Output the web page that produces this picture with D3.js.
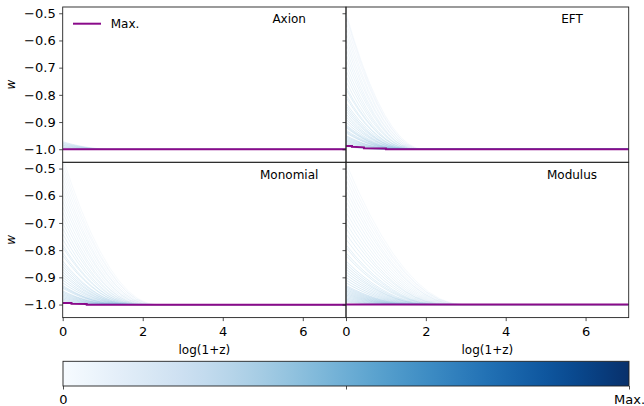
<!DOCTYPE html>
<html>
<head>
<meta charset="utf-8">
<script src="https://cdn.jsdelivr.net/npm/d3@7"></script>
<style>
  html, body { margin: 0; padding: 0; background: #fff; }
  svg { display: block; font-family: "DejaVu Sans", sans-serif; }
</style>
</head>
<body>
<svg id="chart" width="644" height="406"></svg>
<script>
// ---------------- data ----------------
const panelNames = ["Axion", "EFT", "Monomial", "Modulus"];
const yTicks = [-0.5, -0.6, -0.7, -0.8, -0.9, -1.0];
const xTicks = [0, 2, 4, 6];
const colorbarTickLabels = ["0", "", "Max."];

// shared decay shape of a trajectory, sampled at t = 0, 0.1, ... 1 (fraction of its decay length)
const decayT       = [0, 0.1, 0.2, 0.3, 0.4, 0.5, 0.6, 0.7, 0.8, 0.9, 1.0];
const decayProfile = [1, 0.81, 0.64, 0.49, 0.36, 0.25, 0.16, 0.09, 0.04, 0.01, 0];

// trajectories: w at log(1+z)=0 and log(1+z) where w reaches -1
const axionStart = [-0.972, -0.975, -0.978, -0.98, -0.983, -0.985, -0.987, -0.99, -0.992, -0.994, -0.996];
const axionEnd   = [1.25, 1.2, 1.15, 1.1, 1.05, 1.0, 0.9, 0.85, 0.8, 0.7, 0.6];

const eftStart = [-0.50, -0.51, -0.53, -0.55, -0.57, -0.59, -0.61, -0.63, -0.65, -0.67, -0.69, -0.71,
                  -0.73, -0.75, -0.77, -0.78, -0.80, -0.81, -0.83, -0.84, -0.85, -0.86, -0.87, -0.88,
                  -0.89, -0.90, -0.91, -0.915, -0.92, -0.93, -0.935, -0.94, -0.95, -0.955, -0.96, -0.965,
                  -0.97, -0.975, -0.98, -0.985, -0.99];
const eftEnd   = [1.95, 1.9, 1.9, 1.85, 1.85, 1.8, 1.8, 1.75, 1.75, 1.75, 1.7, 1.7,
                  1.7, 1.65, 1.65, 1.65, 1.6, 1.6, 1.6, 1.55, 1.55, 1.55, 1.5, 1.5,
                  1.5, 1.45, 1.45, 1.4, 1.4, 1.4, 1.35, 1.35, 1.3, 1.3, 1.25, 1.2,
                  1.2, 1.1, 1.05, 1.0, 0.9];

const monoStart = [-0.46, -0.48, -0.50, -0.52, -0.54, -0.56, -0.58, -0.60, -0.62, -0.64, -0.66, -0.68,
                   -0.70, -0.72, -0.74, -0.76, -0.78, -0.79, -0.81, -0.82, -0.84, -0.85, -0.86, -0.87,
                   -0.88, -0.89, -0.90, -0.91, -0.92, -0.93, -0.935, -0.94, -0.95, -0.955, -0.96, -0.965,
                   -0.97, -0.975, -0.98, -0.985, -0.99];
const monoEnd   = [2.35, 2.3, 2.3, 2.25, 2.2, 2.2, 2.15, 2.1, 2.1, 2.05, 2.0, 2.0,
                   1.95, 1.95, 1.9, 1.9, 1.85, 1.85, 1.8, 1.8, 1.75, 1.75, 1.7, 1.7,
                   1.65, 1.65, 1.6, 1.6, 1.55, 1.5, 1.5, 1.45, 1.4, 1.4, 1.35, 1.3,
                   1.25, 1.2, 1.1, 1.0, 0.9];

const modStart = [-0.48, -0.50, -0.52, -0.54, -0.56, -0.58, -0.60, -0.62, -0.64, -0.66, -0.68, -0.70,
                  -0.72, -0.74, -0.76, -0.78, -0.79, -0.81, -0.82, -0.84, -0.85, -0.86, -0.87, -0.88,
                  -0.89, -0.90, -0.91, -0.92, -0.93, -0.935, -0.94, -0.945, -0.95, -0.955, -0.96, -0.965,
                  -0.97, -0.975, -0.98, -0.985, -0.99];
const modEnd   = [2.95, 2.9, 2.9, 2.85, 2.8, 2.8, 2.75, 2.7, 2.65, 2.6, 2.55, 2.5,
                  2.5, 2.45, 2.4, 2.35, 2.3, 2.3, 2.25, 2.2, 2.15, 2.1, 2.1, 2.05,
                  2.0, 1.95, 1.9, 1.85, 1.8, 1.75, 1.7, 1.65, 1.6, 1.55, 1.5, 1.45,
                  1.4, 1.3, 1.2, 1.1, 1.0];

// "Max." curve per panel
const maxAxionX = [0, 7.08];
const maxAxionW = [-1.0, -1.0];
const maxEftX = [0, 0.15, 0.15, 0.45, 0.45, 1.0, 1.0, 7.08];
const maxEftW = [-0.988, -0.988, -0.991, -0.993, -0.996, -0.997, -1.0, -1.0];
const maxMonoX = [0, 0.22, 0.22, 0.6, 0.6, 7.08];
const maxMonoW = [-0.994, -0.994, -0.997, -0.998, -1.001, -1.001];
const maxModX = [0, 7.08];
const maxModW = [-1.0, -1.0];

// ---------------- layout ----------------
const svg = d3.select("#chart");
const FS = 12, TFS = 13;
const L = 62.7, R = 628.7, MID = 346;
const T = 7, PH = 155.3;
const x = d3.scaleLinear().domain([0, 7.08]);
const y = d3.scaleLinear().domain([-1.048, -0.477]);

const panels = [
  {name: panelNames[0], col: 0, row: 0, start: axionStart, end: axionEnd, mx: maxAxionX, mw: maxAxionW, op: 0.2},
  {name: panelNames[1], col: 1, row: 0, start: eftStart, end: eftEnd, mx: maxEftX, mw: maxEftW, op: 0.33},
  {name: panelNames[2], col: 0, row: 1, start: monoStart, end: monoEnd, mx: maxMonoX, mw: maxMonoW, op: 0.33},
  {name: panelNames[3], col: 1, row: 1, start: modStart, end: modEnd, mx: maxModX, mw: maxModW, op: 0.33},
];

const colorOf = d3.scaleLinear().domain([-0.5, -1.0]).range([0.2, 0.62]);
const ink = "#222";
const maxColor = "#8a0a8a";

panels.forEach((p, i) => {
  const x0 = p.col === 0 ? L : MID;
  const x1 = p.col === 0 ? MID : R;
  const y0 = T + p.row * PH;
  const y1 = y0 + PH;
  const xs = x.copy().range([x0, x1]);
  const ys = y.copy().range([y1, y0]);

  const clipId = "clip" + i;
  svg.append("clipPath").attr("id", clipId)
    .append("rect").attr("x", x0).attr("y", y0).attr("width", x1 - x0).attr("height", y1 - y0);

  const g = svg.append("g").attr("clip-path", `url(#${clipId})`);
  const line = d3.line().x(d => xs(d[0])).y(d => ys(d[1]));

  p.start.forEach((w0, k) => {
    const amp = w0 + 1;
    const xe = p.end[k];
    const pts = decayT.map((t, j) => [t * xe, -1 + amp * decayProfile[j]]);
    pts.push([7.08, -1]);
    g.append("path")
      .attr("d", line(pts))
      .attr("fill", "none")
      .attr("stroke", d3.interpolateBlues(colorOf(w0)))
      .attr("stroke-opacity", p.op)
      .attr("stroke-width", 0.7);
  });

  g.append("path")
    .attr("d", line(p.mx.map((v, j) => [v, p.mw[j]])))
    .attr("fill", "none")
    .attr("stroke", maxColor)
    .attr("stroke-width", 2);

  // y ticks (left side, outward)
  const ya = d3.axisLeft(ys).tickValues(yTicks).tickSize(3.5).tickPadding(3.5)
    .tickFormat(p.col === 0 ? d3.format(".1f") : () => "");
  const yg = svg.append("g").attr("transform", `translate(${x0},0)`).call(ya);
  yg.select(".domain").remove();
  yg.selectAll("line").attr("stroke", ink).attr("stroke-width", 0.8);
  yg.selectAll("text").attr("font-size", TFS).attr("fill", "#000")
    .attr("font-family", "DejaVu Sans");

  if (p.row === 1) {
    const xa = d3.axisBottom(xs).tickValues(xTicks).tickSize(3.5).tickPadding(6)
      .tickFormat(d3.format("d"));
    const xg = svg.append("g").attr("transform", `translate(0,${y1})`).call(xa);
    xg.select(".domain").remove();
    xg.selectAll("line").attr("stroke", ink).attr("stroke-width", 0.8);
    xg.selectAll("text").attr("font-size", TFS).attr("fill", "#000")
      .attr("font-family", "DejaVu Sans");
    svg.append("text").attr("x", (x0 + x1) / 2).attr("y", 353.5)
      .attr("text-anchor", "middle").attr("font-size", FS).text("log(1+z)");
  }

  // frame
  svg.append("rect").attr("x", x0).attr("y", y0).attr("width", x1 - x0).attr("height", y1 - y0)
    .attr("fill", "none").attr("stroke", ink).attr("stroke-width", 0.9);

  // panel title
  svg.append("text").attr("x", xs(5.66)).attr("y", y0 + 16.3)
    .attr("text-anchor", "middle").attr("font-size", FS).text(p.name);

  if (p.col === 0) {
    svg.append("text")
      .attr("transform", `translate(15,${(y0 + y1) / 2}) rotate(-90)`)
      .attr("text-anchor", "middle").attr("font-size", FS).attr("font-style", "italic")
      .text("w");
  }
});

// legend in first panel
svg.append("line").attr("x1", 73).attr("x2", 101).attr("y1", 23.7).attr("y2", 23.7)
  .attr("stroke", maxColor).attr("stroke-width", 2);
svg.append("text").attr("x", 110.7).attr("y", 28.2).attr("font-size", FS).text("Max.");

// ---------------- colorbar ----------------
const cbX0 = 63, cbX1 = 629, cbY0 = 361.3, cbY1 = 386;
const grad = svg.append("defs").append("linearGradient").attr("id", "cbgrad")
  .attr("x1", "0%").attr("x2", "100%").attr("y1", "0%").attr("y2", "0%");
d3.range(0, 1.0001, 0.05).forEach(t => {
  grad.append("stop").attr("offset", (t * 100) + "%").attr("stop-color", d3.interpolateBlues(t));
});
svg.append("rect").attr("x", cbX0).attr("y", cbY0).attr("width", cbX1 - cbX0).attr("height", cbY1 - cbY0)
  .attr("fill", "url(#cbgrad)").attr("stroke", ink).attr("stroke-width", 0.9);
const cbScale = d3.scaleLinear().domain([0, 1]).range([cbX0, cbX1]);
const cbAxis = d3.axisBottom(cbScale).tickValues([0, 0.5, 1]).tickSize(3.5).tickPadding(5)
  .tickFormat((d, k) => colorbarTickLabels[k]);
const cbg = svg.append("g").attr("transform", `translate(0,${cbY1})`).call(cbAxis);
cbg.select(".domain").remove();
cbg.selectAll("line").attr("stroke", ink).attr("stroke-width", 0.8);
cbg.selectAll("text").attr("font-size", TFS).attr("fill", "#000").attr("font-family", "DejaVu Sans");
</script>
</body>
</html>
